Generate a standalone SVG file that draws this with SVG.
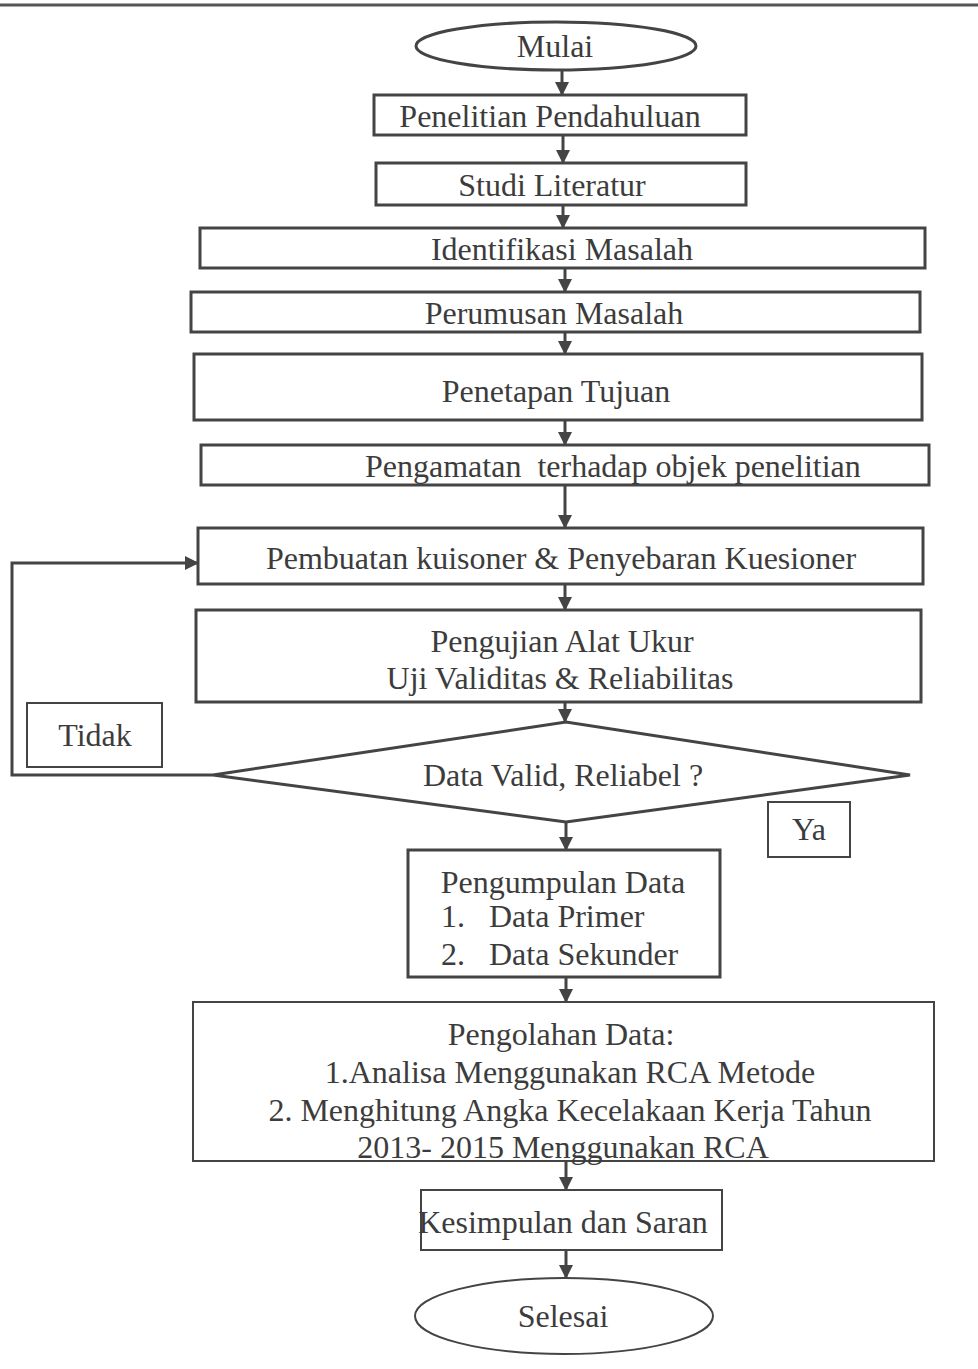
<svg xmlns="http://www.w3.org/2000/svg" width="978" height="1369" viewBox="0 0 978 1369">
<defs>
<marker id="ah" markerWidth="14" markerHeight="14" refX="13" refY="7" orient="auto" markerUnits="userSpaceOnUse">
<path d="M0,0 L14,7 L0,14 Z" fill="#444"/>
</marker>
<style>
.b{fill:#fff;stroke:#444;stroke-width:3}
.t{fill:#fff;stroke:#444;stroke-width:2}
.c{fill:none;stroke:#444;stroke-width:3}
text{font-family:"Liberation Serif","Times New Roman",serif;font-size:32px;fill:#3c3c3c}
.m{text-anchor:middle}
</style>
</defs>
<rect width="978" height="1369" fill="#fff"/>
<line x1="0" y1="5" x2="978" y2="5" stroke="#555" stroke-width="3"/>
<g id="connectors">
<line class="c" x1="562" y1="70" x2="562" y2="95" marker-end="url(#ah)"/>
<line class="c" x1="563" y1="135" x2="563" y2="163" marker-end="url(#ah)"/>
<line class="c" x1="563" y1="205" x2="563" y2="228" marker-end="url(#ah)"/>
<line class="c" x1="565" y1="268" x2="565" y2="292" marker-end="url(#ah)"/>
<line class="c" x1="565" y1="332" x2="565" y2="354" marker-end="url(#ah)"/>
<line class="c" x1="565" y1="420" x2="565" y2="445" marker-end="url(#ah)"/>
<line class="c" x1="565" y1="485" x2="565" y2="528" marker-end="url(#ah)"/>
<line class="c" x1="565" y1="584" x2="565" y2="610" marker-end="url(#ah)"/>
<line class="c" x1="565" y1="702" x2="565" y2="722" marker-end="url(#ah)"/>
<line class="c" x1="566" y1="822" x2="566" y2="850" marker-end="url(#ah)"/>
<line class="c" x1="566" y1="977" x2="566" y2="1002" marker-end="url(#ah)"/>
<line class="c" x1="566" y1="1161" x2="566" y2="1190" marker-end="url(#ah)"/>
<line class="c" x1="566" y1="1250" x2="566" y2="1278" marker-end="url(#ah)"/>
<polyline class="c" points="213,775 12,775 12,563 198,563" marker-end="url(#ah)"/>
</g>
<g id="mulai">
<ellipse class="b" cx="556" cy="46" rx="140" ry="24"/>
<text class="m" x="555" y="57">Mulai</text>
</g>
<g id="penelitian">
<rect class="b" x="374" y="95" width="372" height="40"/>
<text class="m" x="550" y="127">Penelitian Pendahuluan</text>
</g>
<g id="studi">
<rect class="b" x="376" y="163" width="370" height="42"/>
<text class="m" x="552" y="196">Studi Literatur</text>
</g>
<g id="identifikasi">
<rect class="b" x="200" y="228" width="725" height="40"/>
<text class="m" x="562" y="260">Identifikasi Masalah</text>
</g>
<g id="perumusan">
<rect class="b" x="191" y="292" width="729" height="40"/>
<text class="m" x="554" y="324">Perumusan Masalah</text>
</g>
<g id="penetapan">
<rect class="b" x="194" y="354" width="728" height="66"/>
<text class="m" x="556" y="402">Penetapan Tujuan</text>
</g>
<g id="pengamatan">
<rect class="b" x="201" y="445" width="728" height="40"/>
<text x="365" y="477" xml:space="preserve">Pengamatan  terhadap objek penelitian</text>
</g>
<g id="pembuatan">
<rect class="b" x="198" y="528" width="725" height="56"/>
<text class="m" x="561" y="569">Pembuatan kuisoner &amp; Penyebaran Kuesioner</text>
</g>
<g id="pengujian">
<rect class="b" x="196" y="610" width="725" height="92"/>
<text class="m" x="562" y="652">Pengujian Alat Ukur</text>
<text class="m" x="560" y="689">Uji Validitas &amp; Reliabilitas</text>
</g>
<g id="keputusan">
<polygon class="b" points="213,775 566,722 910,775 566,822"/>
<text class="m" x="563" y="786">Data Valid, Reliabel ?</text>
</g>
<g id="tidak">
<rect class="t" x="27" y="703" width="135" height="64"/>
<text class="m" x="95" y="746">Tidak</text>
</g>
<g id="ya">
<rect class="t" x="768" y="802" width="82" height="55"/>
<text class="m" x="809" y="840">Ya</text>
</g>
<g id="pengumpulan">
<rect class="b" x="408" y="850" width="312" height="127"/>
<text class="m" x="563" y="893">Pengumpulan Data</text>
<text x="441" y="927" xml:space="preserve">1.   Data Primer</text>
<text x="441" y="965" xml:space="preserve">2.   Data Sekunder</text>
</g>
<g id="pengolahan">
<rect class="t" x="193" y="1002" width="741" height="159"/>
<text class="m" x="561" y="1045">Pengolahan Data:</text>
<text class="m" x="570" y="1083">1.Analisa Menggunakan RCA Metode</text>
<text class="m" x="570" y="1121">2. Menghitung Angka Kecelakaan Kerja Tahun</text>
<text class="m" x="563" y="1158">2013- 2015 Menggunakan RCA</text>
</g>
<g id="kesimpulan">
<rect class="t" x="421" y="1190" width="301" height="60"/>
<text class="m" x="563" y="1233">Kesimpulan dan Saran</text>
</g>
<g id="selesai">
<ellipse class="t" cx="564" cy="1316" rx="149" ry="38"/>
<text class="m" x="563" y="1327">Selesai</text>
</g>
</svg>
